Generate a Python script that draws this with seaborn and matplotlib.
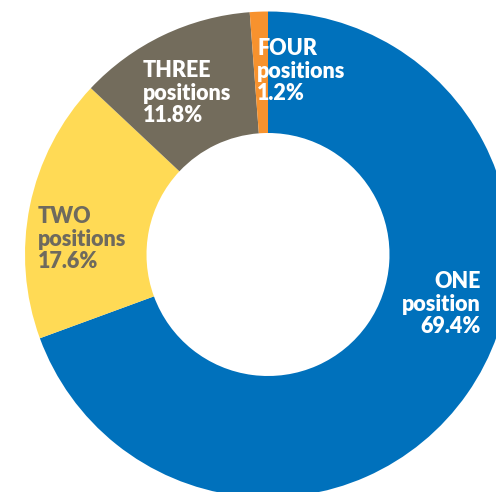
import matplotlib
matplotlib.use("Agg")
import matplotlib.pyplot as plt
import seaborn as sns

# Share of respondents by number of positions held
categories = ["ONE", "TWO", "THREE", "FOUR"]
units = ["position", "positions", "positions", "positions"]
shares = [69.4, 17.6, 11.8, 1.2]
colors = ["#0071BC", "#FFDA55", "#736C5C", "#F7922E"]
label_colors = ["white", "#6E6A5E", "white", "white"]

sns.set_style("white")
plt.rcParams["font.family"] = ["Lato", "DejaVu Sans"]

W, H = 496, 492
fig = plt.figure(figsize=(W / 100, H / 100), dpi=100)
R = 243  # outer radius in pixels
cx, cy = 268, H - 254.5
ax = fig.add_axes([(cx - R) / W, (cy - R) / H, 2 * R / W, 2 * R / H])

ax.pie(shares, colors=colors, startangle=90, counterclock=False, radius=1,
       wedgeprops=dict(width=0.5, linewidth=0))
ax.set_xlim(-1, 1)
ax.set_ylim(-1, 1)
ax.set_aspect("equal")
ax.axis("off")

# label anchors (axes data units, baseline of the last line) per slice
anchors = {
    "ONE": (0.877, -0.323, "right"),
    "TWO": (-0.947, -0.056, "left"),
    "THREE": (-0.514, 0.545, "left"),
    "FOUR": (-0.045, 0.636, "left"),
}
for name, unit, share, tc in zip(categories, units, shares, label_colors):
    x, y, ha = anchors[name]
    ax.text(x, y, f"{name}\n{unit}\n{share:.1f}%", ha=ha, va="baseline",
            multialignment=ha, color=tc, fontsize=15.5, fontweight="heavy",
            linespacing=1.08)

fig.savefig("out.png", dpi=100)
